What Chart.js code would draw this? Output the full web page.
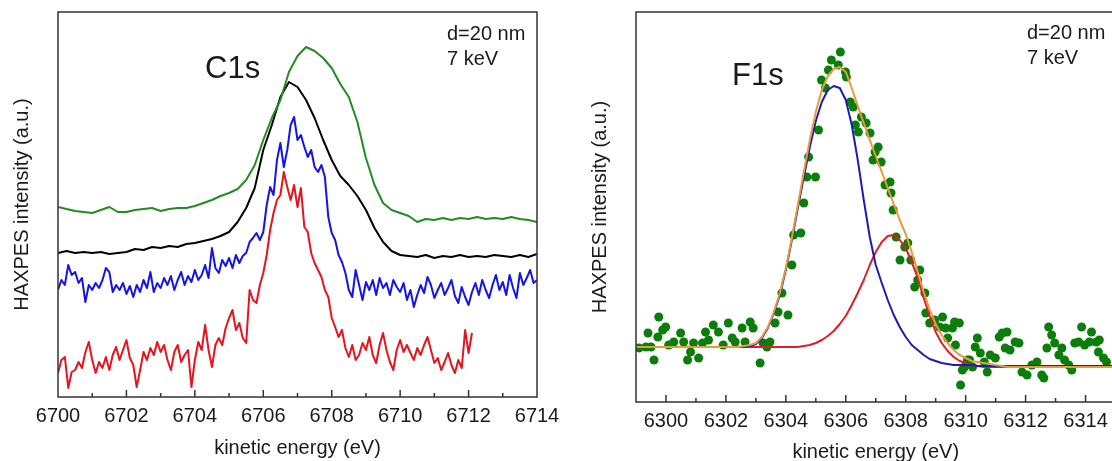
<!DOCTYPE html>
<html>
<head>
<meta charset="utf-8">
<script src="https://cdn.jsdelivr.net/npm/chart.js@4/dist/chart.umd.min.js"></script>
<style>
  html, body { margin: 0; padding: 0; background: #fff; overflow: hidden; width: 1112px; height: 461px; }
  #c1sBox { position: absolute; left: 0; top: 0; width: 567px; height: 461px; }
  #f1sBox { position: absolute; left: 560px; top: 0; width: 560px; height: 461px; }
</style>
</head>
<body>
<div id="c1sBox"><canvas id="c1sCanvas"></canvas></div>
<div id="f1sBox"><canvas id="f1sCanvas"></canvas></div>
<script>
/* ---------- C1s panel (left) ---------- */
// green and black spectra: 0.25 eV channels from 6700 eV
var c1sSmoothStart = 6700, c1sSmoothStep = 0.25;
var c1sGreen = [190,188,186,185,184,187,190,185,185,187,188,189,186,188,189,189,191,194,197,201,
  204,208,217,232,257,279,297,325,341,350,346,339,329,313,300,275,239,212,194,187,
  184,181,175,178,177,179,177,179,178,180,178,179,178,180,178,177,175];
var c1sBlack = [144,146,144,145,144,145,143,144,145,148,147,150,149,151,150,153,154,156,158,161,
  165,175,189,209,247,272,300,315,310,297,279,257,237,221,212,201,187,169,155,146,
  142,141,140,142,139,141,140,142,140,141,140,142,141,140,142,140,143];
// blue and red spectra: 0.1 eV channels from 6700 eV
var c1sNoisyStart = 6700, c1sNoisyStep = 0.1;
var c1sBlue = [107,117,112,132,122,125,114,119,95,112,
  107,114,109,117,129,125,105,112,107,114,
  103,111,100,112,105,117,109,125,105,114,
  109,119,112,121,107,117,125,112,121,115,
  127,117,122,132,119,149,129,124,137,131,
  139,129,142,134,141,144,155,159,164,157,
  165,192,210,202,237,254,230,247,272,280,
  257,262,250,240,247,230,225,232,220,180,
  164,157,142,135,124,107,100,127,112,97,
  115,107,117,102,119,109,114,102,117,110,
  105,114,97,107,90,102,112,104,120,112,
  99,107,114,102,109,117,101,94,110,100,
  92,105,114,102,117,107,99,112,122,107,
  115,102,122,109,99,124,112,119,127,114,
  117];
var c1sRed = [24,37,40,9,25,27,35,29,45,55,
  37,24,35,29,40,27,42,50,37,47,
  57,39,32,10,27,45,37,49,42,55,
  45,52,37,27,45,52,35,42,47,10,
  37,55,47,72,47,30,52,59,52,69,
  79,87,67,74,59,54,107,97,94,112,
  124,142,167,184,197,202,225,210,197,212,
  190,209,170,165,144,134,127,120,107,100,
  79,70,60,67,49,40,52,37,42,54,
  47,60,42,34,52,64,47,35,27,47,
  57,45,52,44,37,49,42,52,60,47,
  34,39,27,35,44,32,24,37,29,67,
  44,64];
var c1sTickLabels = [6700, 6702, 6704, 6706, 6708, 6710, 6712, 6714];
var c1sTickMarks = [6701, 6702, 6703, 6704, 6705, 6706, 6707, 6708, 6709, 6710, 6711, 6712, 6713];

/* ---------- F1s panel (right) ---------- */
var f1sDotsE = [6299.10,6299.33,6299.40,6299.50,6299.60,6299.73,6299.76,6299.89,6299.99,6300.09,
  6300.26,6300.49,6300.59,6300.72,6300.82,6300.92,6301.09,6301.22,6301.32,6301.42,
  6301.58,6301.75,6301.91,6302.08,6302.21,6302.31,6302.54,6302.64,6302.81,6302.91,
  6303.14,6303.24,6303.37,6303.47,6303.64,6303.74,6303.87,6304.07,6304.20,6304.26,
  6304.50,6304.60,6304.70,6304.76,6304.99,6305.09,6305.19,6305.32,6305.42,6305.52,
  6305.75,6305.82,6305.99,6306.02,6306.15,6306.25,6306.32,6306.42,6306.52,6306.68,
  6306.81,6306.91,6306.98,6307.08,6307.18,6307.31,6307.48,6307.51,6307.58,6307.68,
  6307.81,6307.97,6308.07,6308.17,6308.30,6308.40,6308.47,6308.64,6308.67,6308.80,
  6308.97,6309.13,6309.23,6309.33,6309.40,6309.56,6309.63,6309.66,6309.79,6309.83,
  6309.89,6309.96,6310.06,6310.13,6310.23,6310.32,6310.39,6310.49,6310.62,6310.72,
  6310.82,6310.99,6311.12,6311.22,6311.32,6311.38,6311.48,6311.65,6311.78,6311.88,
  6312.05,6312.21,6312.38,6312.54,6312.61,6312.71,6312.77,6312.87,6312.97,6313.11,
  6313.21,6313.30,6313.44,6313.54,6313.64,6313.77,6313.87,6313.97,6314.13,6314.20,
  6314.36,6314.43,6314.46,6314.60,6314.70];
var f1sDotsI = [54,55,69,55,42,65,85,72,75,57,
  60,69,60,42,50,59,44,59,70,62,
  77,70,57,79,64,60,74,60,80,74,
  39,59,55,60,79,90,109,87,137,167,
  169,199,225,245,225,272,322,314,332,342,
  337,350,330,325,300,295,277,270,285,279,
  269,242,250,255,240,217,220,209,192,165,
  142,155,159,142,115,122,132,109,89,79,
  82,75,85,74,64,74,80,57,79,17,
  32,35,42,42,35,55,64,49,40,30,
  47,44,65,69,54,70,52,60,59,30,
  27,37,40,27,24,54,75,67,59,47,
  54,42,37,32,59,60,75,57,60,70,
  60,50,62,44,40];
var f1sFitE = [6299,6300,6301,6302,6302.4,6302.6,6302.8,6303.0,6303.2,6303.4,
  6303.6,6303.8,6304.0,6304.2,6304.4,6304.6,6304.8,6305.0,6305.2,6305.4,
  6305.6,6305.8,6306.0,6306.2,6306.4,6306.6,6306.8,6307.0,6307.2,6307.4,
  6307.6,6307.8,6308.0,6308.2,6308.4,6308.6,6308.8,6309.0,6309.2,6309.4,
  6309.6,6309.8,6310.0,6310.2,6310.4,6310.6,6310.8,6311.0,6311.2,6311.4,
  6312,6313,6314,6315];
var f1sFitBlue = [55,55,55,55,55,55,56,58,64,74,
  89,107,132,162,194,225,255,281,300,312,
  316,314,302,277,242,202,165,137,119,102,
  87,75,65,57,52,47,43,41,39,38,
  37,37,37,37,36,36,36,36,36,36,
  36,36,36,36];
var f1sFitRed = [55,55,55,55,55,55,55,55,55,55,
  55,55,55,55,55,56,57,59,62,66,
  71,78,86,97,109,122,137,150,160,166,
  167,162,154,140,124,104,86,70,59,51,
  45,41,39,37,36,35,35,35,35,35,
  35,35,35,35];
var f1sFitSum = [55,55,55,55,55,56,57,59,65,75,
  90,109,134,164,197,230,262,290,312,326,
  333,335,330,314,296,279,262,246,230,214,
  198,182,168,150,130,110,92,78,67,59,
  52,47,44,41,40,39,38,37,36,35,
  35,35,35,35];
var f1sTickLabels = [6300, 6302, 6304, 6306, 6308, 6310, 6312, 6314];
var f1sTickMarks = [6300, 6301, 6302, 6303, 6304, 6305, 6306, 6307, 6308, 6309, 6310, 6311, 6312, 6313, 6314];

/* ---------- helpers ---------- */
function channels(start, step, values) {
  var pts = [];
  for (var i = 0; i < values.length; i++) {
    pts.push({ x: +(start + i * step).toFixed(2), y: values[i] });
  }
  return pts;
}
function pairs(xs, ys) {
  var pts = [];
  for (var i = 0; i < xs.length; i++) pts.push({ x: xs[i], y: ys[i] });
  return pts;
}
function line(data, color, width) {
  return { data: data, showLine: true, borderColor: color, backgroundColor: color,
           borderWidth: width, pointRadius: 0, tension: 0, borderJoinStyle: 'round' };
}

var FONT = '"Liberation Sans", Arial, sans-serif';
var INK = '#1a1a1a';
Chart.defaults.font.family = FONT;
Chart.defaults.color = INK;

/* frame box and inward tick marks */
var frameTicks = {
  id: 'frameTicks',
  afterDatasetsDraw: function(chart, args, opts) {
    var ctx = chart.ctx, a = chart.chartArea, xs = chart.scales.x;
    ctx.save();
    ctx.strokeStyle = '#333';
    ctx.lineWidth = 1.5;
    ctx.strokeRect(a.left, a.top, a.right - a.left, a.bottom - a.top);
    opts.marks.forEach(function(v) {
      var x = xs.getPixelForValue(v);
      var len = (v % 2 === 0) ? opts.major : opts.minor;
      ctx.beginPath();
      ctx.moveTo(x, a.bottom);
      ctx.lineTo(x, a.bottom - len);
      ctx.stroke();
    });
    ctx.restore();
  }
};

/* labels inside the plot */
var panelText = {
  id: 'panelText',
  afterDraw: function(chart, args, opts) {
    var ctx = chart.ctx;
    ctx.save();
    ctx.fillStyle = INK;
    ctx.textBaseline = 'alphabetic';
    opts.items.forEach(function(t) {
      ctx.font = t.size + 'px ' + FONT;
      ctx.fillText(t.text, t.x, t.y);
    });
    ctx.restore();
  }
};

function makeOptions(cfg) {
  return {
    responsive: true,
    maintainAspectRatio: false,
    animation: false,
    devicePixelRatio: 1,
    layout: { padding: { top: 12, right: cfg.padRight, left: 0, bottom: 0 } },
    plugins: {
      legend: { display: false },
      tooltip: { enabled: false },
      frameTicks: { marks: cfg.marks, major: 7, minor: 4 },
      panelText: { items: cfg.texts }
    },
    scales: {
      x: {
        type: 'linear', min: cfg.xMin, max: cfg.xMax,
        grid: { display: false, drawTicks: false },
        border: { display: false },
        afterBuildTicks: function(s) { s.ticks = cfg.labels.map(function(v) { return { value: v }; }); },
        afterFit: function(s) { s.height = cfg.xHeight; },
        ticks: { font: { size: 20 }, color: INK, padding: 7, maxRotation: 0, autoSkip: false,
                 callback: function(v) { return String(v); } },
        title: { display: true, text: 'kinetic energy (eV)', font: { size: 20 }, color: INK,
                 padding: { top: 0, bottom: cfg.xTitlePad } }
      },
      y: {
        type: 'linear', min: 0, max: cfg.yMax,
        grid: { display: false, drawTicks: false },
        border: { display: false },
        ticks: { display: false },
        afterFit: function(s) { s.width = cfg.yWidth; },
        title: { display: true, text: 'HAXPES intensity (a.u.)', font: { size: 20 }, color: INK,
                 padding: { top: cfg.yTitlePad, bottom: 0 } }
      }
    }
  };
}

new Chart(document.getElementById('c1sCanvas').getContext('2d'), {
  type: 'scatter',
  data: {
    datasets: [
      line(channels(c1sSmoothStart, c1sSmoothStep, c1sGreen), '#228b22', 2),
      line(channels(c1sSmoothStart, c1sSmoothStep, c1sBlack), '#000000', 2),
      line(channels(c1sNoisyStart, c1sNoisyStep, c1sBlue), '#1414e6', 2),
      line(channels(c1sNoisyStart, c1sNoisyStep, c1sRed), '#e6141c', 2)
    ]
  },
  options: makeOptions({
    xMin: 6700, xMax: 6714, yMax: 385, padRight: 30, xHeight: 64, yWidth: 58,
    xTitlePad: 1, yTitlePad: 10, labels: c1sTickLabels, marks: c1sTickMarks,
    texts: [
      { text: 'C1s', x: 205, y: 78, size: 31 },
      { text: 'd=20 nm', x: 447, y: 40, size: 20 },
      { text: '7 keV', x: 447, y: 65, size: 20 }
    ]
  }),
  plugins: [frameTicks, panelText]
});

new Chart(document.getElementById('f1sCanvas').getContext('2d'), {
  type: 'scatter',
  data: {
    datasets: [
      line(pairs(f1sFitE, f1sFitSum), '#e89a3c', 2),
      line(pairs(f1sFitE, f1sFitBlue), '#1c1cb0', 2),
      line(pairs(f1sFitE, f1sFitRed), '#dc1e28', 2),
      { data: pairs(f1sDotsE, f1sDotsI), showLine: false, pointRadius: 4.5, borderWidth: 0,
        backgroundColor: '#0b7d0b', pointBorderWidth: 0 }
    ]
  },
  options: makeOptions({
    xMin: 6299, xMax: 6315, yMax: 390, padRight: 0, xHeight: 59, yWidth: 76,
    xTitlePad: -3, yTitlePad: 28, labels: f1sTickLabels, marks: f1sTickMarks,
    texts: [
      { text: 'F1s', x: 172, y: 85, size: 31 },
      { text: 'd=20 nm', x: 467, y: 39, size: 20 },
      { text: '7 keV', x: 467, y: 64, size: 20 }
    ]
  }),
  plugins: [frameTicks, panelText]
});
</script>
</body>
</html>
